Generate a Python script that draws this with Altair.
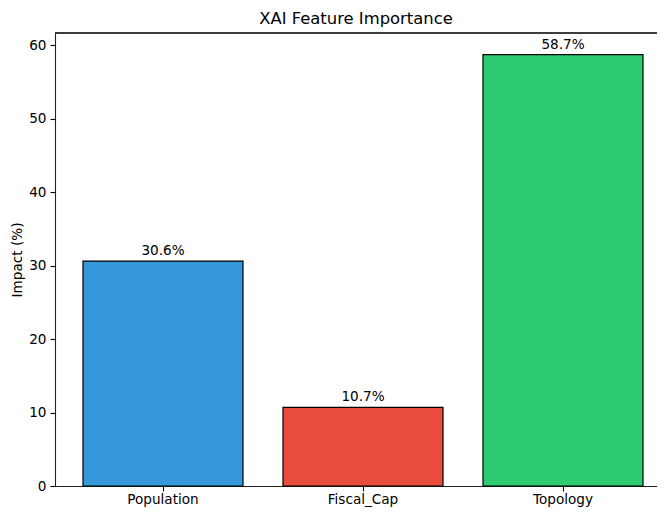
import altair as alt
import pandas as pd

features = ["Population", "Fiscal_Cap", "Topology"]
impacts = [30.6, 10.7, 58.7]
colors = ["#3498db", "#e74c3c", "#2ecc71"]
y_ticks = [0, 10, 20, 30, 40, 50, 60]

df = pd.DataFrame({"feature": features, "impact": impacts, "color": colors})
df["label"] = [f"{v:.1f}%" for v in impacts]

FONT = "DejaVu Sans"
FS = 13.6
W = 602
H = 453

x = alt.X(
    "feature:N",
    sort=features,
    scale=alt.Scale(paddingInner=0.2, paddingOuter=0.14, range=[0, 616]),
    axis=alt.Axis(
        title=None, labelAngle=0, labelFont=FONT, labelFontSize=FS, labelColor="black",
        tickSize=5, tickColor="black", tickWidth=1.1, domainColor="#222", domainWidth=1.1,
        labelPadding=1,
    ),
)
y = alt.Y(
    "impact:Q",
    scale=alt.Scale(domain=[0, 61.635], nice=False, zero=True),
    axis=alt.Axis(
        values=y_ticks, title="Impact (%)", grid=False, labelFont=FONT, labelFontSize=FS,
        labelColor="black", titleFont=FONT, titleFontSize=FS, titleFontWeight="normal",
        titleColor="black", tickSize=5, tickColor="black", tickWidth=1.1,
        domainColor="#222", domainWidth=1.1, labelPadding=4, titlePadding=4,
    ),
)

bars = alt.Chart(df).mark_bar(stroke="black", strokeWidth=1.2).encode(
    x=x, y=y, color=alt.Color("color:N", scale=None)
)
text = alt.Chart(df).mark_text(
    baseline="bottom", dy=-3, fontSize=FS, font=FONT, color="black"
).encode(x=alt.X("feature:N", sort=features), y=alt.Y("impact:Q"), text="label:N")

top_spine = alt.Chart(df).mark_rule(color="#222", strokeWidth=1.1).encode(
    x=alt.value(0), x2=alt.value(W), y=alt.value(0)
)

chart = (
    (bars + text + top_spine)
    .properties(
        width=W,
        height=H,
        title=alt.Title(
            "XAI Feature Importance", fontSize=16.4, font=FONT, fontWeight="normal",
            color="black", offset=5,
        ),
        padding={"left": 47, "top": 25, "right": 0, "bottom": 21},
        autosize="none",
    )
    .configure_view(stroke=None)
)

chart.save("out.html", embed_options={"renderer": "svg", "actions": False})
